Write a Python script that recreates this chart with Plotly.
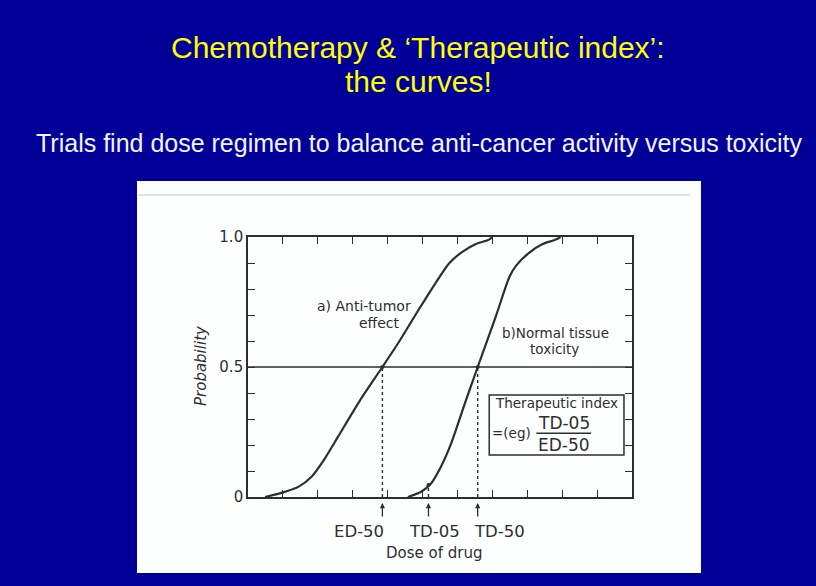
import plotly.graph_objects as go

# ---------------- data ----------------
dose_a = [0.49, 0.96, 1.44, 1.82, 2.2, 2.58, 3.2, 3.85, 4.34, 4.91, 5.49, 5.77, 6.15, 6.53, 6.91, 7.0]
prob_a = [0.0, 0.016, 0.039, 0.078, 0.148, 0.232, 0.37, 0.5, 0.6, 0.725, 0.847, 0.9, 0.944, 0.973, 0.99, 1.0]

dose_b = [4.58, 4.96, 5.25, 5.53, 5.82, 6.2, 6.58, 7.1, 7.49, 7.68, 8.06, 8.44, 8.82, 8.95]
prob_b = [0.0, 0.02, 0.053, 0.117, 0.206, 0.355, 0.5, 0.695, 0.847, 0.89, 0.94, 0.973, 0.99, 1.0]

ref_names = ["ED-50", "TD-05", "TD-50"]
ref_dose = [3.85, 5.17, 6.58]
ref_prob = [0.5, 0.046, 0.5]
ref_label_x = [3.19, 5.35, 7.2]

half_line_x = [0, 11]
half_line_y = [0.5, 0.5]

x_ticks = [1, 2, 3, 4, 5, 6, 7, 8, 9, 10]
y_ticks = [0, 0.1, 0.2, 0.3, 0.4, 0.5, 0.6, 0.7, 0.8, 0.9, 1.0]
y_ticktext = ["0", "", "", "", "", "0.5", "", "", "", "", "1.0"]

title_line1 = "Chemotherapy & \u2018Therapeutic index\u2019:"
title_line2 = "the curves!"
subtitle = "Trials find dose regimen to balance anti-cancer activity versus toxicity"

# ---------------- styling ----------------
INK = "#2e2e2e"
BLUE = "#000099"
FONT = "DejaVu Sans"
W, H = 816, 586
ML, MR, MT, MB = 248, 184, 237, 89
PW, PH = W - ML - MR, H - MT - MB


def px_x(px):
    return (px - ML) / PW


def px_y(py):
    return (H - MB - py) / PH


fig = go.Figure()

fig.add_trace(go.Scatter(x=half_line_x, y=half_line_y, mode="lines",
                         line=dict(color=INK, width=1.4), hoverinfo="skip"))
fig.add_trace(go.Scatter(x=dose_a, y=prob_a, mode="lines",
                         line=dict(color=INK, width=2.2, shape="spline", smoothing=0.7),
                         hoverinfo="skip"))
fig.add_trace(go.Scatter(x=dose_b, y=prob_b, mode="lines",
                         line=dict(color=INK, width=2.2, shape="spline", smoothing=0.7),
                         hoverinfo="skip"))
for xv, yv in zip(ref_dose, ref_prob):
    fig.add_trace(go.Scatter(x=[xv, xv], y=[0, yv], mode="lines",
                             line=dict(color=INK, width=1.4, dash="3px,3px"),
                             hoverinfo="skip"))
fig.add_trace(go.Scatter(x=ref_dose, y=ref_prob, mode="markers",
                         marker=dict(color=INK, size=4), hoverinfo="skip"))

shapes = [
    dict(type="rect", xref="paper", yref="paper",
         x0=px_x(137), x1=px_x(701), y0=px_y(573), y1=px_y(181),
         fillcolor="#fdfefe", line=dict(width=0), layer="below"),
    dict(type="line", xref="paper", yref="paper",
         x0=px_x(138), x1=px_x(690), y0=px_y(195), y1=px_y(195),
         line=dict(color="#e2e4e6", width=2), layer="below"),
    dict(type="rect", xref="x", yref="y", x0=6.91, x1=10.77, y0=0.162, y1=0.392,
         line=dict(color=INK, width=1.5), fillcolor="rgba(255,255,255,0)"),
    dict(type="line", xref="x", yref="y", x0=8.26, x1=9.83, y0=0.245, y1=0.245,
         line=dict(color=INK, width=1.5)),
]


def label(text, x, y, size, xref="x", yref="y", color=INK, family=FONT, **kw):
    return dict(text=text, x=x, y=y, xref=xref, yref=yref, showarrow=False,
                xanchor="center", yanchor="middle",
                font=dict(family=family, size=size, color=color), **kw)


ann = [
    label(title_line1, px_x(418), px_y(48), 30, "paper", "paper", "#ffff00", "Liberation Sans"),
    label(title_line2, px_x(418), px_y(82), 30, "paper", "paper", "#ffff00", "Liberation Sans"),
    label(subtitle, px_x(419), px_y(143), 25, "paper", "paper", "#f4f4ff", "Liberation Sans"),
    label("<i>Probability</i>", px_x(201), px_y(366), 15, "paper", "paper", textangle=-90),
    label("Dose of drug", 5.34, px_y(553), 15, "x", "paper"),
]
for name, xv, lx in zip(ref_names, ref_dose, ref_label_x):
    ann.append(dict(text="", xref="x", yref="paper", x=xv, y=px_y(503), ax=0, ay=15,
                    showarrow=True, arrowhead=2, arrowsize=0.8, arrowwidth=1.3,
                    arrowcolor=INK))
    ann.append(label(name, lx, px_y(531), 16.5, "x", "paper"))

ann += [
    label("a) Anti-tumor", 3.31, 0.735, 14),
    label("effect", 3.78, 0.669, 14),
    label("b)Normal tissue", 8.82, 0.632, 13.5),
    label("toxicity", 8.79, 0.569, 13.5),
    label("Therapeutic index", 8.84, 0.362, 13.5),
    label("=(eg)", 7.54, 0.246, 13.5),
    label("TD-05", 9.06, 0.285, 17),
    label("ED-50", 9.06, 0.2, 17),
]

axis_common = dict(showline=True, linecolor=INK, linewidth=1.6, mirror="ticks",
                   ticks="inside", ticklen=7, tickwidth=1.4, tickcolor=INK,
                   showgrid=False, zeroline=False, fixedrange=True)

fig.update_layout(
    width=W, height=H,
    margin=dict(l=ML, r=MR, t=MT, b=MB, pad=0),
    paper_bgcolor=BLUE, plot_bgcolor="#fdfefe",
    showlegend=False,
    xaxis=dict(range=[0, 11], tickvals=x_ticks, showticklabels=False, **axis_common),
    yaxis=dict(range=[0, 1], tickvals=y_ticks, ticktext=y_ticktext,
               tickfont=dict(family=FONT, size=15, color=INK), **axis_common),
    shapes=shapes,
    annotations=ann,
)

fig.write_html("out.html", config={"displayModeBar": False},
               post_script="document.body.style.margin='0';document.body.style.overflow='hidden';")
